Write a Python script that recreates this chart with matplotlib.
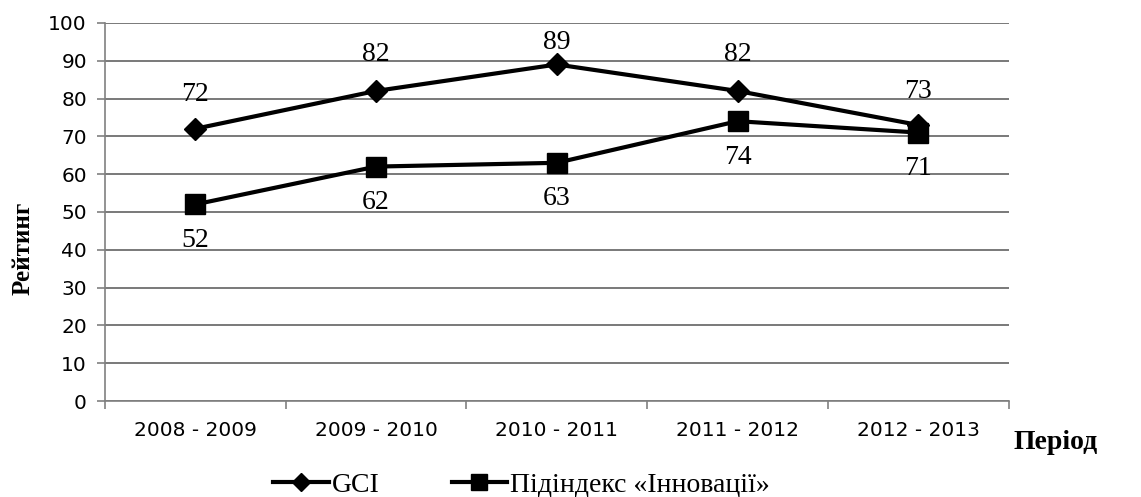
import matplotlib.pyplot as plt
import numpy as np

periods = ['2008 - 2009', '2009 - 2010', '2010 - 2011', '2011 - 2012', '2012 - 2013']
gci = [72, 82, 89, 82, 73]
innov = [52, 62, 63, 74, 71]
gci_name = 'GCI'
innov_name = 'Підіндекс «Інновації»'

x = np.arange(len(periods))

fig = plt.figure(figsize=(11.41, 4.97), dpi=100)
ax = fig.add_axes([0.092, 0.193, 0.792, 0.761])

ax.plot(x, gci, color='black', lw=3, marker='D', ms=11, label=gci_name, zorder=3)
ax.plot(x, innov, color='black', lw=3, marker='s', ms=14, label=innov_name, zorder=3)

# labels: above for GCI, below for the sub-index
up = [25, 26, 16, 26, 24]
for xi, v, off in zip(x, gci, up):
	ax.annotate(str(v), (xi, v), xytext=(0, off), textcoords='offset points',
		ha='center', va='center', fontsize=20, family='Liberation Serif')
for xi, v in zip(x, innov):
	ax.annotate(str(v), (xi, v), xytext=(0, -26), textcoords='offset points',
		ha='center', va='center', fontsize=20, family='Liberation Serif')

ax.set_xlim(-0.5, len(periods) - 0.5)
ax.set_ylim(0, 100)
ax.set_yticks(range(0, 101, 10))
ax.set_xticks(x)
ax.set_xticklabels(periods)
ax.set_xticks(np.arange(-0.5, len(periods)), minor=True)
ax.tick_params(axis='x', which='major', length=0, pad=14, labelsize=14.5)
ax.tick_params(axis='x', which='minor', length=6, color='#808080', width=1.2)
ax.tick_params(axis='y', length=6, color='#808080', width=1.2, labelsize=14.5, pad=7)

ax.grid(axis='y', color='#555555', lw=1.1)
ax.set_axisbelow(True)
for s in ['top', 'right']:
	ax.spines[s].set_visible(False)
for s in ['left', 'bottom']:
	ax.spines[s].set_color('#808080')
	ax.spines[s].set_linewidth(1.2)

fig.text(0.02, 0.5, 'Рейтинг', rotation=90, ha='center', va='center',
	fontsize=18, fontweight='bold', family='Liberation Serif')
fig.text(0.888, 0.11, 'Період', ha='left', va='center',
	fontsize=20, fontweight='bold', family='Liberation Serif')

fig.legend(loc='center', bbox_to_anchor=(0.457, 0.024), ncol=2, frameon=False,
	prop={'family': 'Liberation Serif', 'size': 20}, handlelength=2.0,
	markerscale=0.8, handletextpad=0.1, columnspacing=2.6, borderaxespad=0)

fig.savefig('out.png', dpi=100)
